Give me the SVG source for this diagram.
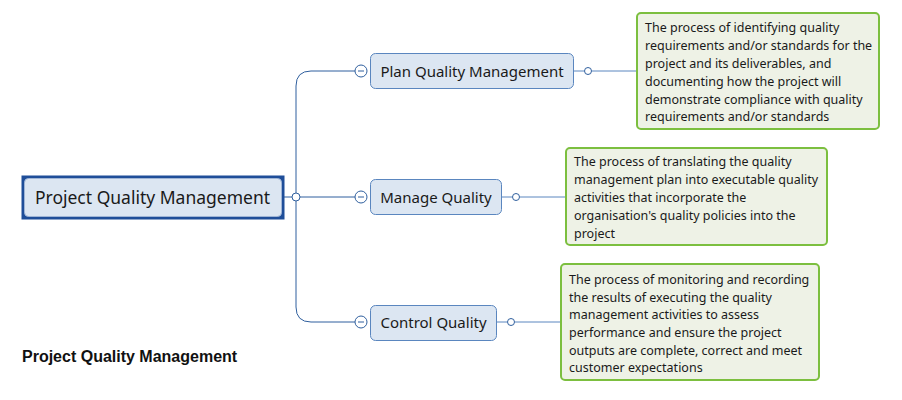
<svg xmlns="http://www.w3.org/2000/svg" width="902" height="400" viewBox="0 0 902 400">
<style>
.t{font-family:"Noto Sans","Open Sans","DejaVu Sans",sans-serif;fill:#1a1a1a}
.topic{fill:#dce6f2;stroke:#5a86bf;stroke-width:1}
.note{fill:#eef2e6;stroke:#7cbf3f;stroke-width:2}
.ln{fill:none;stroke:#2f5f9e;stroke-width:1}
.nl{fill:none;stroke:#5a86bf;stroke-width:1}
.dot{fill:#fff;stroke:#2f5f9e;stroke-width:1}
.nt{font-size:12.5px}
.tp{font-size:15px}
</style>
<g id="connectors">
<path class="ln" d="M284 197H292"/>
<path class="ln" d="M300 197H355"/>
<path class="ln" d="M296 193V86Q296 71 311 71H355"/>
<path class="ln" d="M296 201V307Q296 322 311 322H355"/>
<path class="nl" d="M574 71H584M592 71H637"/>
<path class="nl" d="M502 197H512M520 197H566"/>
<path class="nl" d="M497 322H507M515 322H561"/>
<circle class="dot" cx="296" cy="197" r="4"/>
<circle class="dot" cx="588" cy="71" r="3.5"/>
<circle class="dot" cx="516" cy="197" r="3.5"/>
<circle class="dot" cx="511" cy="322" r="3.5"/>
</g>
<g id="root">
<rect x="21.5" y="175.5" width="263" height="44" fill="#1f4e99"/>
<rect x="24.5" y="178.5" width="257" height="38" rx="4" fill="#dce6f2" stroke="#9fb5d6"/>
<text class="t" x="152.5" y="203.5" font-size="17.5" text-anchor="middle">Project Quality Management</text>
</g>
<g id="plan">
<circle cx="361" cy="71" r="6" fill="#fff" stroke="#2f5f9e"/>
<path d="M358 71H364" stroke="#2f5f9e"/>
<rect class="topic" x="370.5" y="53.5" width="203" height="35" rx="5"/>
<text class="t tp" x="472" y="76.5" text-anchor="middle">Plan Quality Management</text>
</g>
<g id="manage">
<circle cx="361" cy="197" r="6" fill="#fff" stroke="#2f5f9e"/>
<path d="M358 197H364" stroke="#2f5f9e"/>
<rect class="topic" x="370.5" y="179.5" width="131" height="35" rx="5"/>
<text class="t tp" x="436" y="202.5" text-anchor="middle">Manage Quality</text>
</g>
<g id="control">
<circle cx="361" cy="322" r="6" fill="#fff" stroke="#2f5f9e"/>
<path d="M358 322H364" stroke="#2f5f9e"/>
<rect class="topic" x="370.5" y="305.5" width="126" height="35" rx="5"/>
<text class="t tp" x="433.5" y="328" text-anchor="middle">Control Quality</text>
</g>
<g id="note1">
<rect class="note" x="637" y="13" width="242" height="116" rx="4"/>
<text class="t nt" x="645"><tspan x="645" y="32">The process of identifying quality</tspan><tspan x="645" y="50">requirements and/or standards for the</tspan><tspan x="645" y="68">project and its deliverables, and</tspan><tspan x="645" y="86">documenting how the project will</tspan><tspan x="645" y="104">demonstrate compliance with quality</tspan><tspan x="645" y="121">requirements and/or standards</tspan></text>
</g>
<g id="note2">
<rect class="note" x="566" y="148" width="261" height="97" rx="4"/>
<text class="t nt"><tspan x="574" y="166">The process of translating the quality</tspan><tspan x="574" y="184">management plan into executable quality</tspan><tspan x="574" y="202">activities that incorporate the</tspan><tspan x="574" y="220">organisation's quality policies into the</tspan><tspan x="574" y="238">project</tspan></text>
</g>
<g id="note3">
<rect class="note" x="561" y="264" width="258" height="116" rx="4"/>
<text class="t nt"><tspan x="569" y="284">The process of monitoring and recording</tspan><tspan x="569" y="302">the results of executing the quality</tspan><tspan x="569" y="319">management activities to assess</tspan><tspan x="569" y="337">performance and ensure the project</tspan><tspan x="569" y="355">outputs are complete, correct and meet</tspan><tspan x="569" y="372">customer expectations</tspan></text>
</g>
<text x="22" y="361.5" font-family="'Liberation Sans',Arial,sans-serif" font-weight="bold" font-size="16" fill="#111">Project Quality Management</text>
</svg>
